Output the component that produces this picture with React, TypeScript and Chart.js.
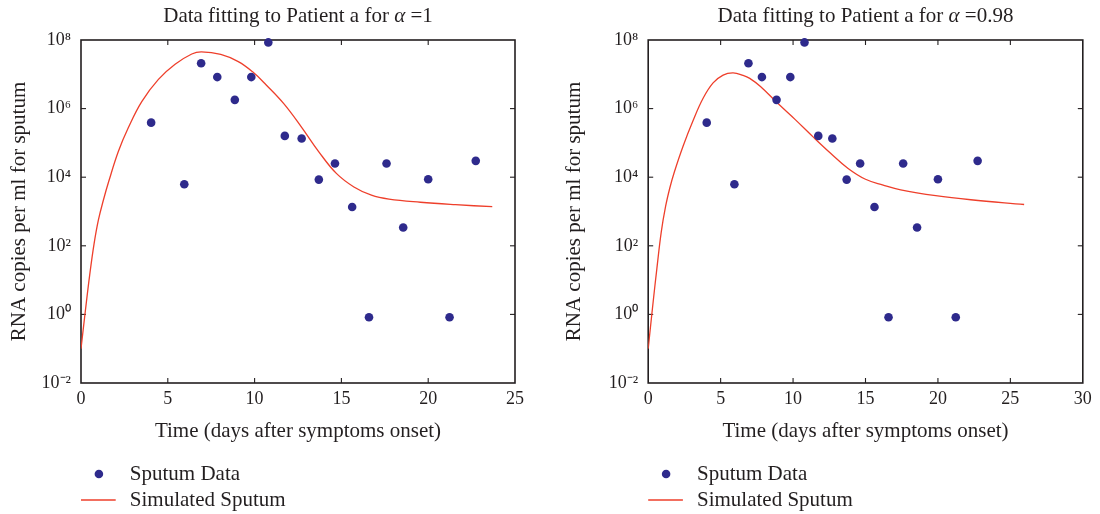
import { useEffect, useRef } from 'react';
import { Chart, registerables } from 'chart.js';

Chart.register(...registerables);

// ---- data ----
const sputumDays = [4.04, 5.95, 6.92, 7.85, 8.86, 9.81, 10.79, 11.74, 12.71, 13.7, 14.63, 15.62, 16.59, 17.6, 18.56, 20.0, 21.23, 22.74];
const sputumCopies = [3.9e5, 6.2e3, 2.1e7, 8.3e6, 1.8e6, 8.3e6, 8.5e7, 1.6e5, 1.35e5, 8.5e3, 2.5e4, 1.35e3, 0.83, 2.5e4, 340, 8.7e3, 0.83, 3.0e4];

const simDaysAlpha1 = [0, 0.25, 0.5, 0.75, 1.0, 1.3, 1.6, 2.15, 2.73, 3.5, 4.46, 5.42, 6.38, 6.94, 8.05, 9.06, 9.87, 10.67, 11.68, 12.69, 13.7, 14.71, 15.72, 16.73, 17.74, 19.55, 21.57, 23.69];
const simCopiesAlpha1 = [0.1, 1.26, 14, 112, 560, 2240, 7600, 5.6e4, 2.8e5, 1.6e6, 7.1e6, 1.95e7, 3.9e7, 4.5e7, 3.8e7, 2.35e7, 1.2e7, 4.9e6, 1.4e6, 2.95e5, 5.5e4, 1.29e4, 5.2e3, 3.0e3, 2.3e3, 1.86e3, 1.58e3, 1.38e3];

const simDaysAlpha098 = [0, 0.15, 0.35, 0.6, 0.9, 1.2, 1.5, 1.8, 2.4, 3.1, 3.79, 4.48, 5.17, 5.86, 6.55, 7.01, 7.75, 8.96, 10.17, 11.38, 12.59, 13.8, 15.0, 16.22, 17.43, 19.85, 22.27, 25.95];
const simCopiesAlpha098 = [0.1, 0.4, 2.5, 22, 250, 1.4e3, 5.0e3, 1.4e4, 7.9e4, 4.5e5, 2.0e6, 5.6e6, 9.5e6, 1.1e7, 9.3e6, 7.6e6, 4.4e6, 1.4e6, 4.7e5, 1.5e5, 5.0e4, 1.8e4, 8.7e3, 5.9e3, 4.3e3, 2.9e3, 2.2e3, 1.6e3];

const yTickValues = [1e-2, 1, 1e2, 1e4, 1e6, 1e8];
const yTickLabels = ['10⁻²', '10⁰', '10²', '10⁴', '10⁶', '10⁸'];
const xTicksAlpha1 = [0, 5, 10, 15, 20, 25];
const xTicksAlpha098 = [0, 5, 10, 15, 20, 25, 30];

const titlePrefix = 'Data fitting to Patient a for ';
const alphaSymbol = 'α';
const alphaValues = [' =1', ' =0.98'];
const xTitle = 'Time (days after symptoms onset)';
const yTitle = 'RNA copies per ml for sputum';
const seriesLabels = ['Sputum Data', 'Simulated Sputum'];

// ---- styles ----
const FONT = '"Liberation Serif", "Times New Roman", serif';
const TEXT = '#231f20';
const DOT = '#2e2a8c';
const RED = '#ee3f2b';
const W = 550;
const H = 514;

type PanelProps = {
  alphaText: string;
  xTicks: number[];
  simDays: number[];
  simCopies: number[];
  areaLeft: number;
  areaRight: number;
  yTitlePad: number;
};

function Panel({ alphaText, xTicks, simDays, simCopies, areaLeft, areaRight, yTitlePad }: PanelProps) {
  const ref = useRef<HTMLCanvasElement | null>(null);

  useEffect(() => {
    if (!ref.current) return;
    const areaTop = 40;
    const areaBottom = 383;
    const padBottom = 60;

    const framePlugin = {
      id: 'frame',
      beforeDatasetsDraw(chart: any) {
        const { ctx, chartArea: a, scales } = chart;
        ctx.save();
        ctx.strokeStyle = TEXT;
        ctx.lineWidth = 1.6;
        ctx.strokeRect(a.left, a.top, a.right - a.left, a.bottom - a.top);
        ctx.lineWidth = 1.1;
        const L = 5;
        const seg = (x1: number, y1: number, x2: number, y2: number) => {
          ctx.beginPath();
          ctx.moveTo(x1, y1);
          ctx.lineTo(x2, y2);
          ctx.stroke();
        };
        scales.x.ticks.forEach((t: any) => {
          const px = scales.x.getPixelForValue(t.value);
          if (px <= a.left + 1 || px >= a.right - 1) return;
          seg(px, a.bottom, px, a.bottom - L);
          seg(px, a.top, px, a.top + L);
        });
        scales.y.ticks.forEach((t: any) => {
          const py = scales.y.getPixelForValue(t.value);
          if (py <= a.top + 1 || py >= a.bottom - 1) return;
          seg(a.left, py, a.left + L, py);
          seg(a.right, py, a.right - L, py);
        });
        ctx.restore();
      },
    };

    const decorPlugin = {
      id: 'decor',
      afterDraw(chart: any) {
        const { ctx, chartArea: a } = chart;
        ctx.save();
        ctx.fillStyle = TEXT;
        ctx.textBaseline = 'alphabetic';
        // title with italic alpha
        const normal = `21px ${FONT}`;
        const italic = `italic 21px ${FONT}`;
        const parts: [string, string][] = [
          [titlePrefix, normal],
          [alphaSymbol, italic],
          [alphaText, normal],
        ];
        let total = 0;
        parts.forEach(([t, f]) => {
          ctx.font = f;
          total += ctx.measureText(t).width;
        });
        let x = (a.left + a.right) / 2 - total / 2;
        parts.forEach(([t, f]) => {
          ctx.font = f;
          ctx.textAlign = 'left';
          ctx.fillText(t, x, 21.5);
          x += ctx.measureText(t).width;
        });

        // legend
        const ds = chart.data.datasets;
        ctx.font = `21px ${FONT}`;
        ctx.fillStyle = DOT;
        ctx.beginPath();
        ctx.arc(a.left + 17.9, 474, 4.3, 0, Math.PI * 2);
        ctx.fill();
        ctx.strokeStyle = RED;
        ctx.lineWidth = 1.3;
        ctx.beginPath();
        ctx.moveTo(a.left, 500);
        ctx.lineTo(a.left + 34.7, 500);
        ctx.stroke();
        ctx.fillStyle = TEXT;
        ctx.fillText(ds[0].label, a.left + 48.8, 479.5);
        ctx.fillText(ds[1].label, a.left + 48.8, 506);
        ctx.restore();
      },
    };

    const chart = new Chart(ref.current, {
      type: 'scatter',
      data: {
        datasets: [
          {
            label: seriesLabels[0],
            data: sputumDays.map((d, i) => ({ x: d, y: sputumCopies[i] })),
            backgroundColor: DOT,
            borderColor: DOT,
            pointRadius: 4.3,
            pointHoverRadius: 4.3,
            borderWidth: 0,
            clip: false,
            order: 0,
          } as any,
          {
            label: seriesLabels[1],
            type: 'line',
            data: simDays.map((d, i) => ({ x: d, y: simCopies[i] })),
            borderColor: RED,
            backgroundColor: RED,
            borderWidth: 1.3,
            pointRadius: 0,
            showLine: true,
            fill: false,
            tension: 0.4,
            order: 1,
          } as any,
        ],
      },
      options: {
        responsive: false,
        maintainAspectRatio: false,
        animation: false,
        devicePixelRatio: 1,
        events: [],
        layout: { padding: { top: areaTop, left: 0, right: W - areaRight, bottom: padBottom } },
        plugins: {
          legend: { display: false },
          title: { display: false },
          tooltip: { enabled: false },
        },
        scales: {
          x: {
            type: 'linear',
            min: xTicks[0],
            max: xTicks[xTicks.length - 1],
            afterBuildTicks: (s: any) => {
              s.ticks = xTicks.map((v) => ({ value: v }));
            },
            afterFit: (s: any) => {
              s.height = H - padBottom - areaBottom;
            },
            grid: { display: false, drawTicks: false },
            border: { display: false },
            ticks: {
              color: TEXT,
              font: { family: FONT, size: 18 },
              padding: 5,
              maxRotation: 0,
              autoSkip: false,
              callback: (v: any) => String(v),
            },
            title: {
              display: true,
              text: xTitle,
              color: TEXT,
              font: { family: FONT, size: 21 },
              padding: { top: 0, bottom: 10.2 },
            },
          },
          y: {
            type: 'logarithmic',
            min: yTickValues[0],
            max: yTickValues[yTickValues.length - 1],
            afterBuildTicks: (s: any) => {
              s.ticks = yTickValues.map((v) => ({ value: v }));
            },
            afterFit: (s: any) => {
              s.width = areaLeft;
            },
            grid: { display: false, drawTicks: false },
            border: { display: false },
            ticks: {
              color: TEXT,
              font: { family: FONT, size: 18 },
              padding: 10,
              autoSkip: false,
              callback: (_v: any, i: number) => yTickLabels[i],
            },
            title: {
              display: true,
              text: yTitle,
              color: TEXT,
              font: { family: FONT, size: 21 },
              padding: { top: yTitlePad, bottom: 0 },
            },
          },
        },
      } as any,
      plugins: [framePlugin, decorPlugin],
    });

    return () => chart.destroy();
  }, [alphaText, xTicks, simDays, simCopies, areaLeft, areaRight, yTitlePad]);

  return <canvas ref={ref} width={W} height={H} style={{ display: 'block', width: W, height: H }} />;
}

export default function App() {
  return (
    <div
      style={{
        position: 'fixed',
        left: 0,
        top: 0,
        width: 1100,
        height: 514,
        display: 'flex',
        background: '#ffffff',
      }}
    >
      <Panel
        alphaText={alphaValues[0]}
        xTicks={xTicksAlpha1}
        simDays={simDaysAlpha1}
        simCopies={simCopiesAlpha1}
        areaLeft={81}
        areaRight={515}
        yTitlePad={6.6}
      />
      <Panel
        alphaText={alphaValues[1]}
        xTicks={xTicksAlpha098}
        simDays={simDaysAlpha098}
        simCopies={simCopiesAlpha098}
        areaLeft={98.2}
        areaRight={532.8}
        yTitlePad={11.9}
      />
    </div>
  );
}
